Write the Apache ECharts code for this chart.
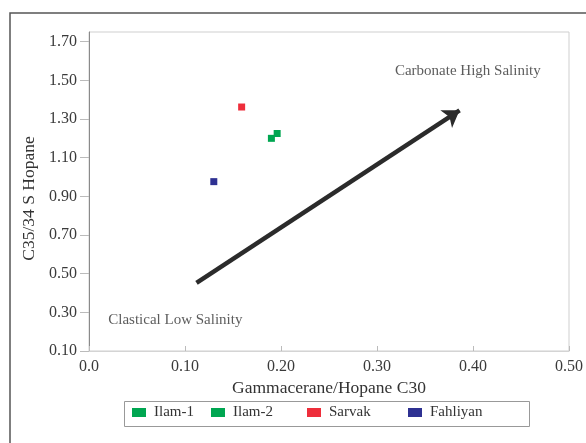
<!DOCTYPE html>
<html>
<head>
<meta charset="utf-8">
<script src="https://cdn.jsdelivr.net/npm/echarts@6/dist/echarts.min.js"></script>
<style>
  html, body { margin: 0; padding: 0; background: #fff; }
  #chart { width: 586px; height: 443px; }
</style>
</head>
<body>
<div id="chart"></div>
<script>
// Sample groups and their (Gammacerane/Hopane C30, C35/34 S Hopane) values
const seriesNames = ['Ilam-1', 'Ilam-2', 'Sarvak', 'Fahliyan'];
const ilam1 = [[0.190, 1.200]];
const ilam2 = [[0.196, 1.225]];
const sarvak = [[0.159, 1.362]];
const fahliyan = [[0.130, 0.976]];

// Axis ticks
const yTicks = [0.10, 0.30, 0.50, 0.70, 0.90, 1.10, 1.30, 1.50, 1.70];
const xTicks = [0.0, 0.10, 0.20, 0.30, 0.40, 0.50];

// Trend arrow (salinity direction) and region notes, in data units
const arrowFrom = [0.112, 0.452];
const arrowTo = [0.386, 1.345];
const notes = [
  { name: 'Clastical Low Salinity', value: [0.0899, 0.261] },
  { name: 'Carbonate High Salinity', value: [0.3946, 1.549] }
];

const colors = ['#00a651', '#00a651', '#ee2e3b', '#2e3192'];
const FONT = '"Liberation Serif", "Times New Roman", serif';

const chart = echarts.init(document.getElementById('chart'));

const groups = [ilam1, ilam2, sarvak, fahliyan];
const pointSeries = seriesNames.map((name, i) => ({
  name: name,
  type: 'scatter',
  symbol: 'rect',
  symbolSize: 7,
  data: groups[i],
  itemStyle: { color: colors[i], opacity: 1 },
  z: 5
}));

const legendLefts = [132, 211, 307, 408];
const legends = seriesNames.map((name, i) => ({
  data: [name],
  left: legendLefts[i],
  top: 405,
  padding: 0,
  icon: 'rect',
  itemWidth: 14,
  itemHeight: 9,
  selectedMode: false,
  itemStyle: { opacity: 1 },
  textStyle: { fontFamily: FONT, fontSize: 15, color: '#333', padding: [0, 0, 0, 3] }
}));

chart.setOption({
  animation: false,
  backgroundColor: '#fff',
  textStyle: { fontFamily: FONT },
  grid: {
    left: 89, top: 32, right: 13, bottom: 92,
    show: true, borderColor: '#cfcfcf', borderWidth: 1
  },
  legend: legends,
  graphic: [
    {
      type: 'rect',
      shape: { x: 10, y: 13, width: 620, height: 480 },
      style: { fill: 'none', stroke: '#555', lineWidth: 1.5 },
      silent: true, z: -1
    },
    {
      type: 'rect',
      shape: { x: 124.5, y: 401.5, width: 405, height: 25 },
      style: { fill: 'none', stroke: '#999', lineWidth: 1 },
      silent: true
    }
  ],
  xAxis: {
    type: 'value',
    min: 0, max: 0.5, interval: 0.1,
    name: 'Gammacerane/Hopane C30',
    nameLocation: 'middle',
    nameGap: 26,
    nameTextStyle: { fontFamily: FONT, fontSize: 17.5, color: '#333' },
    axisLine: { show: true, lineStyle: { color: '#d4d4d4', width: 1 } },
    axisTick: { show: true, inside: true, length: 5, lineStyle: { color: '#bbb' }, customValues: xTicks },
    axisLabel: {
      fontFamily: FONT, fontSize: 16, color: '#3a3a3a', margin: 8,
      customValues: xTicks,
      formatter: v => (v === 0 ? '0.0' : v.toFixed(2))
    },
    splitLine: { show: false }
  },
  yAxis: {
    type: 'value',
    min: 0.1, max: 1.75,
    name: 'C35/34 S Hopane',
    nameLocation: 'middle',
    nameGap: 49,
    nameTextStyle: { fontFamily: FONT, fontSize: 17.5, color: '#333', padding: [0, 14, 0, 0] },
    axisLine: { show: true, lineStyle: { color: '#8a8a8a', width: 1 } },
    axisTick: { show: true, inside: false, length: 9, lineStyle: { color: '#bbb' }, customValues: yTicks },
    axisLabel: {
      fontFamily: FONT, fontSize: 16, color: '#3a3a3a', margin: 12,
      customValues: yTicks,
      formatter: v => v.toFixed(2)
    },
    splitLine: { show: false }
  },
  series: pointSeries.concat([{
    name: 'notes',
    type: 'scatter',
    symbolSize: 1,
    silent: true,
    itemStyle: { color: 'rgba(0,0,0,0)' },
    data: notes,
    label: {
      show: true, position: 'inside', formatter: '{b}',
      fontFamily: FONT, fontSize: 15, color: '#333'
    },
    markLine: {
      silent: true,
      symbol: ['none', 'arrow'],
      symbolSize: [16, 16],
      label: { show: false },
      lineStyle: { type: 'solid', color: '#2b2b2b', width: 4.5, opacity: 1 },
      data: [[{ coord: arrowFrom }, { coord: arrowTo }]]
    }
  }])
});
</script>
</body>
</html>
